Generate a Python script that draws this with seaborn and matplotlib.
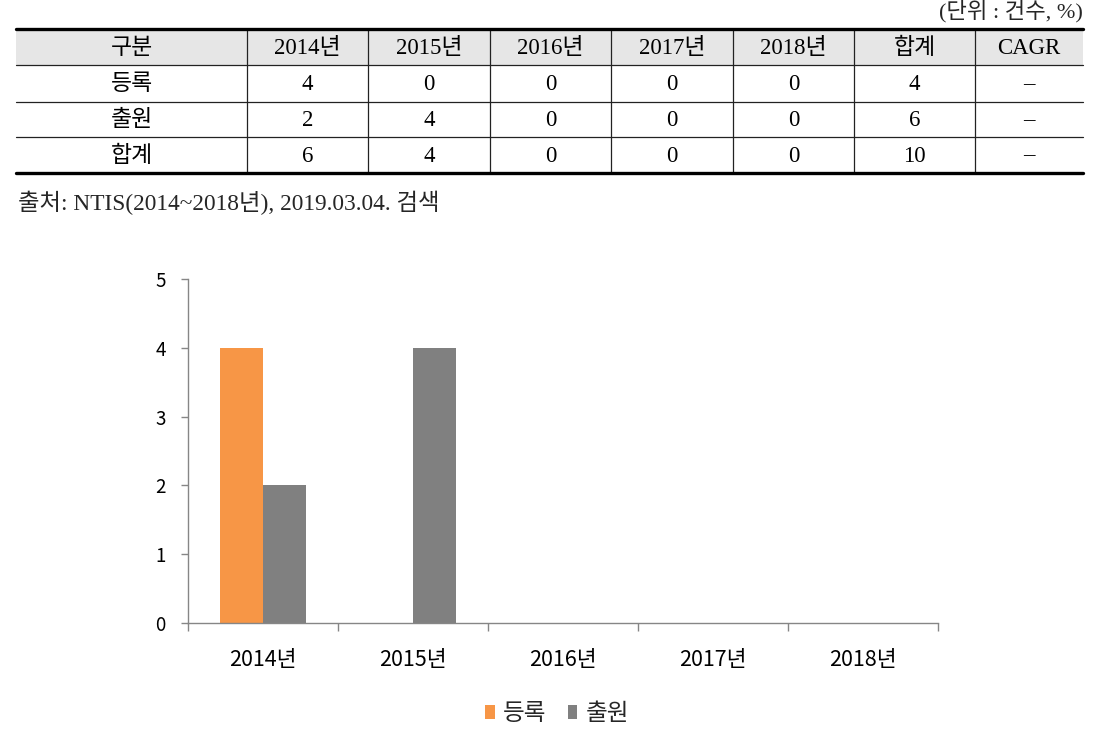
import matplotlib
matplotlib.use("Agg")
import matplotlib.pyplot as plt
import seaborn as sns
import pandas as pd
from matplotlib.patches import Rectangle, Patch
from matplotlib.lines import Line2D

# ---- data ----
years = ["2014년", "2015년", "2016년", "2017년", "2018년"]
reg = [4, 0, 0, 0, 0]          # 등록
app = [2, 4, 0, 0, 0]          # 출원
series_names = ["등록", "출원"]
table_header = ["구분", "2014년", "2015년", "2016년", "2017년", "2018년", "합계", "CAGR"]
table_rows = [
    ["등록", "4", "0", "0", "0", "0", "4", "–"],
    ["출원", "2", "4", "0", "0", "0", "6", "–"],
    ["합계", "6", "4", "0", "0", "0", "10", "–"],
]
unit_text = "(단위 : 건수, %)"
source_text = "출처: NTIS(2014~2018년), 2019.03.04. 검색"
colors = ["#F79646", "#808080"]

sns.set_theme(style="white")
plt.rcParams['font.family'] = ['Noto Sans CJK KR', 'DejaVu Sans']

W, H = 1098, 744
fig = plt.figure(figsize=(W / 100, H / 100), dpi=100)

# overlay for table (pixel coordinates)
ov = fig.add_axes([0, 0, 1, 1])
ov.set_xlim(0, W)
ov.set_ylim(H, 0)
ov.axis("off")

serif = ['Liberation Serif', 'Noto Sans CJK KR']
col_edges = [16, 247, 368, 490, 611, 733, 854, 975, 1083]
row_edges = [29, 65, 102, 137, 173]

ov.add_patch(Rectangle((col_edges[0], row_edges[0]), col_edges[-1] - col_edges[0],
                       row_edges[1] - row_edges[0], facecolor="#e6e6e6", edgecolor="none"))
for y in row_edges[1:-1]:
    ov.add_line(Line2D([col_edges[0], col_edges[-1]], [y, y], color="#222222", lw=0.9))
for x in col_edges[1:-1]:
    ov.add_line(Line2D([x, x], [row_edges[0], row_edges[-1]], color="#222222", lw=0.9))
for y in (row_edges[0], row_edges[-1]):
    ov.add_line(Line2D([col_edges[0], col_edges[-1]], [y, y], color="black", lw=2.4))

all_rows = [table_header] + table_rows
for r, row in enumerate(all_rows):
    yc = (row_edges[r] + row_edges[r + 1]) / 2 + 1
    for c, txt in enumerate(row):
        xc = (col_edges[c] + col_edges[c + 1]) / 2
        ov.text(xc, yc, txt, ha="center", va="center", fontsize=16.5,
                family=serif, color="black")

ov.text(1083, 12, unit_text, ha="right", va="center", fontsize=16, family=serif)
ov.text(18, 203, source_text, ha="left", va="center", fontsize=16.8, family=serif)

# ---- chart ----
df = pd.DataFrame({
    "year": years * 2,
    "value": reg + app,
    "series": [series_names[0]] * len(years) + [series_names[1]] * len(years),
})

ax = fig.add_axes([188 / W, 1 - 623 / H, (938 - 188) / W, (623 - 279) / H])
sns.barplot(data=df, x="year", y="value", hue="series", palette=colors,
            width=0.567, saturation=1, linewidth=0, ax=ax, legend=False)
ax.set_ylim(0, 5)
ax.set_xlim(-0.5, 4.5)
ax.set_yticks([0, 1, 2, 3, 4, 5])
ax.set_xlabel("")
ax.set_ylabel("")
for s in ("top", "right"):
    ax.spines[s].set_visible(False)
for s in ("left", "bottom"):
    ax.spines[s].set_color("#868686")
    ax.spines[s].set_linewidth(1.0)
ax.tick_params(axis="y", which="major", length=5, color="#868686", width=1,
               direction="out", left=True, labelsize=13.5, pad=11)
ax.tick_params(axis="x", which="major", length=0, labelsize=15.5, pad=19)
ax.set_xticks([i - 0.5 for i in range(6)], minor=True)
ax.tick_params(axis="x", which="minor", length=6, color="#868686", width=1,
               direction="out", bottom=True)
for lab in ax.get_xticklabels():
    lab.set_color("black")
for lab in ax.get_yticklabels():
    lab.set_color("black")

handles = [Patch(facecolor=colors[i], edgecolor="none") for i in range(2)]
fig.legend(handles, series_names, loc="center", bbox_to_anchor=(557 / W, 1 - 714 / H),
           ncol=2, frameon=False, prop={"size": 17},
           handlelength=0.4, handleheight=0.55,
           handletextpad=0.35, columnspacing=0.9)

fig.savefig("out.png", dpi=100)
